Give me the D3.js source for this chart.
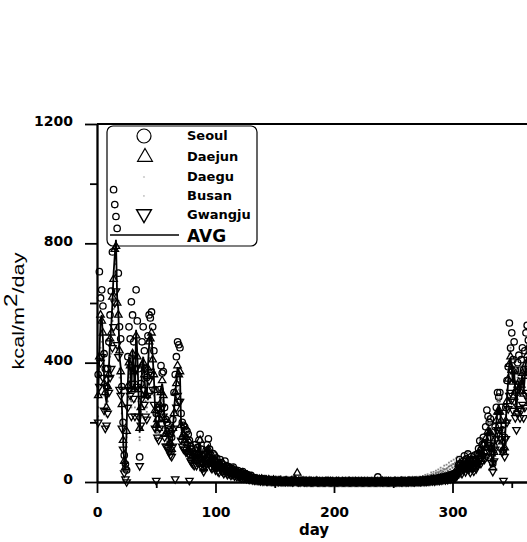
<!DOCTYPE html>
<html>
<head>
<meta charset="utf-8">
<script src="https://cdn.jsdelivr.net/npm/d3@7"></script>
<style>
  body { margin: 0; background: #fff; }
  svg { display: block; }
</style>
</head>
<body>
<div id="chart"></div>
<script>
// ---- data (daily values, day 1..365) ----
const avgValues = [
  280,430,540,560,480,350,290,265,300,380,470,520,600,700,760,812,620,577,420,385,253,150,60,40,180,330,420,380,300,440,380,
  300,510,430,300,165,260,380,420,350,300,280,390,460,500,490,420,350,250,185,200,190,250,310,330,300,200,170,160,
  150,140,125,118,170,240,290,340,385,370,365,185,160,150,150,140,135,130,110,95,90,80,75,100,75,90,110,130,90,60,50,
  70,85,100,118,90,70,60,75,70,55,65,50,45,60,52,48,40,55,45,35,42,38,30,35,40,28,32,25,30,22,
  25,20,28,18,22,15,20,14,12,18,10,12,8,10,9,7,8,6,9,5,6,7,5,4,6,5,3,4,5,3,4,
  3,2,4,3,2,1,3,2,4,2,1,2,3,1,2,5,3,2,1,2,1,3,2,1,2,1,1,2,1,0,
  1,0,1,2,0,1,0,1,0,0,1,0,2,1,0,0,1,0,0,1,0,0,0,1,0,0,0,1,0,0,0,
  0,0,1,0,0,0,0,1,0,0,0,0,1,0,0,0,0,0,1,0,0,0,0,1,0,0,0,2,1,0,0,
  0,1,0,1,0,0,1,2,0,1,0,1,2,1,0,2,1,1,2,1,3,1,2,2,1,3,2,2,3,2,
  3,4,2,5,3,6,4,5,7,6,8,5,9,7,10,8,12,9,11,14,10,15,12,18,14,20,16,22,18,25,30,
  45,60,50,40,55,70,48,62,75,58,45,68,60,50,72,60,75,90,110,85,100,120,105,140,120,175,160,170,90,50,
  97,150,200,240,230,240,200,140,97,120,200,275,340,400,415,380,330,375,300,240,320,340,300,330,360,300,350,400,420,380,360
];

const seoulValues = [
  360,705,617,644,590,430,380,320,380,470,560,640,771,980,930,890,850,700,520,480,320,200,90,60,40,420,520,480,604,560,470,
  380,644,540,380,84,330,470,520,440,380,350,490,560,550,570,520,440,310,230,250,240,310,390,365,370,250,210,200,
  190,175,160,150,210,300,360,420,470,460,450,230,200,190,185,175,170,160,140,120,110,100,95,125,95,115,140,160,110,75,65,
  90,105,125,145,110,90,75,95,90,70,80,65,55,75,65,60,50,70,55,45,52,48,38,45,50,35,40,32,38,28,
  32,25,35,22,28,20,25,18,15,22,13,15,10,13,11,9,10,8,11,6,8,9,6,5,8,6,4,5,6,4,5,
  4,3,5,4,3,2,4,3,5,3,2,3,4,2,3,6,4,3,2,3,2,4,3,2,3,2,2,3,2,1,
  2,1,2,3,1,2,1,2,1,1,2,1,3,2,1,1,2,1,1,2,1,1,1,2,1,1,1,2,1,1,1,
  1,1,2,1,1,1,1,2,1,1,1,1,2,1,1,1,1,1,2,1,1,1,1,2,17,1,1,3,2,1,1,
  1,2,1,2,1,1,2,3,1,2,1,2,3,2,1,3,2,2,3,2,4,2,3,3,2,4,3,3,4,3,
  4,5,3,6,4,8,5,6,9,8,10,6,11,9,13,10,15,11,14,18,13,19,15,23,18,25,20,28,23,32,38,
  56,75,62,50,69,88,60,78,94,72,56,85,75,62,90,75,94,112,138,106,125,150,131,185,241,220,200,212,112,62,
  120,185,250,300,285,300,250,175,107,150,250,340,386,533,449,500,410,470,375,300,400,425,375,410,450,375,440,500,525,475,450
];

const daejunValues = [
  290,420,560,540,500,330,300,250,320,360,480,500,620,680,780,790,600,560,440,370,260,140,70,50,170,320,400,390,310,430,370,
  310,490,420,310,180,250,390,400,360,290,290,380,470,480,500,410,360,240,190,210,180,260,300,340,290,210,160,170,
  160,130,130,110,180,230,300,330,390,360,370,190,150,160,140,150,130,140,100,100,85,90,70,110,70,95,100,140,85,65,45,
  75,80,105,110,95,65,65,70,75,50,70,45,50,55,55,45,42,50,48,32,45,35,32,33,42,26,34,23,32,20,
  27,18,30,16,24,14,22,12,14,16,11,10,9,9,10,6,9,5,10,4,7,6,6,3,7,4,4,3,6,2,5,
  2,3,3,4,1,2,2,3,3,1,2,1,4,2,1,6,2,30,2,1,2,2,3,1,1,2,0,3,1,1,
  0,1,0,3,1,0,1,0,1,0,0,1,1,2,0,1,0,1,0,0,1,0,1,0,0,1,0,0,1,0,1,
  1,0,0,1,0,1,0,0,1,0,1,0,0,1,0,1,0,0,0,1,0,1,0,0,1,0,1,1,2,0,1,
  1,0,1,0,1,0,0,1,1,0,1,0,1,2,1,1,2,0,1,2,2,1,3,1,2,2,3,1,2,3,
  2,5,3,4,4,5,5,4,8,5,9,6,8,8,11,7,13,10,10,15,11,14,13,17,15,19,17,21,20,24,28,
  42,62,48,43,52,72,46,65,72,60,43,70,58,53,70,62,72,93,105,88,97,125,100,145,115,170,165,165,95,48,
  100,145,205,235,235,235,205,135,100,115,205,270,345,395,420,375,335,370,305,235,325,335,305,325,365,295,355,395,425,375,365
];

const daeguValues = [
  250,390,490,500,430,320,260,240,270,340,420,470,540,630,690,730,560,520,380,350,230,135,55,35,160,300,380,340,270,400,340,
  270,460,390,270,150,235,340,380,315,270,250,350,415,450,440,380,315,225,165,180,170,225,280,300,270,180,155,145,
  135,125,115,105,155,215,260,305,345,335,330,165,145,135,135,125,120,115,100,85,80,72,68,90,68,80,100,115,80,55,45,
  63,76,90,106,81,63,54,68,63,50,58,45,40,54,47,43,36,50,40,32,38,34,27,32,36,25,29,22,27,20,
  22,18,25,16,20,13,18,12,11,16,9,11,7,9,8,6,7,5,8,4,5,6,4,3,5,4,3,3,4,2,3,
  10,12,8,15,9,7,11,6,14,8,5,9,12,6,8,16,10,7,5,9,6,12,8,5,10,7,6,9,5,4,
  6,4,7,9,3,5,4,6,3,2,5,3,8,6,2,3,5,2,3,6,2,3,2,5,2,3,2,6,3,2,3,
  3,2,5,3,2,3,2,5,3,2,3,2,6,3,2,3,2,2,5,3,2,3,2,4,3,2,3,7,5,2,3,
  3,5,2,6,3,2,5,8,3,5,2,6,8,5,3,9,6,5,9,6,12,5,9,8,6,12,9,8,13,9,
  12,15,9,18,12,20,15,18,24,20,26,18,30,24,32,26,38,30,35,42,32,45,38,52,42,55,48,60,52,65,70,
  55,70,60,48,65,85,58,72,90,70,55,80,72,60,85,72,90,105,125,100,115,135,120,160,140,200,180,195,105,60,
  110,170,220,270,255,270,225,160,110,135,225,300,370,430,440,400,360,400,330,265,350,370,330,360,390,330,380,430,450,410,390
];

const busanValues = [
  220,360,450,470,400,290,240,220,250,320,390,430,500,580,640,680,520,480,350,320,210,125,50,33,150,275,350,320,250,370,320,
  250,420,360,250,140,215,315,350,290,250,235,325,385,415,405,350,290,210,155,165,160,210,260,275,250,165,140,135,
  125,115,105,100,140,200,240,285,320,310,305,155,135,125,125,115,112,108,92,80,75,68,63,85,63,75,92,110,75,50,42,
  58,70,85,98,75,58,50,62,58,46,54,42,38,50,43,40,34,46,38,30,35,32,25,29,33,23,27,21,25,18,
  30,26,34,24,28,22,26,20,18,24,16,18,14,16,15,13,14,12,15,10,12,13,10,9,11,10,8,9,10,7,8,
  15,18,12,20,14,10,16,9,18,12,8,13,17,9,11,22,14,10,8,13,9,16,12,8,14,10,9,13,8,6,
  8,6,10,12,5,7,6,9,5,4,7,5,11,8,4,5,7,4,5,8,4,5,4,7,4,5,4,8,5,4,5,
  5,4,7,5,4,5,4,7,5,4,5,4,8,5,4,5,4,4,7,5,4,5,4,6,5,4,5,10,7,4,5,
  5,7,4,8,5,4,7,11,5,7,4,8,11,7,5,12,8,7,12,8,16,7,12,11,8,16,12,11,18,12,
  16,20,12,24,16,26,20,24,32,26,34,24,38,32,42,34,48,38,45,55,42,58,48,65,55,70,60,75,65,80,85,
  60,80,68,55,72,95,65,82,100,78,62,90,80,68,95,80,100,115,140,112,125,150,135,175,155,215,195,210,115,68,
  115,180,230,280,265,280,235,170,115,140,235,310,380,440,450,410,370,410,340,275,360,380,340,370,400,340,390,440,460,420,400
];

const gwangjuValues = [
  200,320,400,420,350,240,180,190,230,300,350,380,450,520,600,640,460,420,310,290,180,110,30,10,0,250,310,290,220,330,280,
  220,380,320,220,54,190,280,310,260,220,210,290,340,370,360,310,260,180,5,150,140,180,230,250,220,150,120,120,
  110,100,90,85,120,180,10,250,290,270,270,140,120,110,110,100,100,95,5,70,65,60,55,75,55,65,80,95,65,45,35,
  50,60,75,85,65,50,45,55,50,40,48,36,32,45,38,35,28,40,32,25,30,28,22,25,30,20,24,18,22,16,
  18,14,20,13,16,11,14,10,9,13,7,9,6,7,6,5,6,4,6,3,4,5,3,3,4,3,2,3,3,2,3,
  2,1,3,2,1,1,2,1,3,1,1,1,2,0,1,3,2,1,0,1,0,2,1,0,1,0,0,1,0,0,
  0,0,1,1,0,0,0,0,0,0,0,0,1,0,0,0,0,0,0,0,0,0,0,0,0,0,0,0,0,0,0,
  0,0,0,0,0,0,0,0,0,0,0,0,0,0,0,0,0,0,0,0,0,0,0,0,0,0,0,1,0,0,0,
  0,0,0,0,0,0,0,1,0,0,0,0,1,0,0,1,0,0,1,0,2,0,1,1,0,2,1,1,2,1,
  2,3,1,3,2,4,3,3,5,4,6,3,6,5,7,5,8,6,8,10,7,11,8,13,10,14,11,16,13,18,22,
  32,45,36,28,40,50,34,45,55,42,32,50,44,36,52,44,55,66,80,62,72,88,76,100,85,125,115,120,65,35,
  70,110,145,175,165,175,145,100,5,85,145,200,245,290,300,275,240,270,215,175,230,245,215,240,260,215,250,290,300,275,260
];

const xTicks = [0, 100, 200, 300];
const xMinorTicks = [50, 150, 250, 350];
const yTicks = [0, 400, 800, 1200];
const yMinorTicks = [200, 600, 1000];
const legendNames = ['Seoul', 'Daejun', 'Daegu', 'Busan', 'Gwangju', 'AVG'];

// ---- layout ----
const width = 527;
const height = 542;
const tickFont = 'DejaVu Sans, Verdana, sans-serif';

const svg = d3.select('#chart')
  .append('svg')
  .attr('width', width)
  .attr('height', height)
  .style('background', '#fff');

const x = d3.scaleLinear().domain([0, 380]).range([97, 97 + 380 * 1.185]);
const y = d3.scaleLinear().domain([0, 1200]).range([482, 124]);

const toPoints = vals => vals.map((v, i) => ({ day: i + 1, value: v }));

// gray stipple series (Daegu, Busan)
svg.append('g').selectAll('circle')
  .data(toPoints(daeguValues))
  .enter().append('circle')
  .attr('cx', d => x(d.day))
  .attr('cy', d => y(d.value))
  .attr('r', 1.1)
  .attr('fill', '#666');

svg.append('g').selectAll('rect')
  .data(toPoints(busanValues))
  .enter().append('rect')
  .attr('x', d => x(d.day) - 0.9)
  .attr('y', d => y(d.value) - 0.9)
  .attr('width', 1.8)
  .attr('height', 1.8)
  .attr('fill', '#888');

// triangle markers
const triUp = d3.symbol().type(d3.symbolTriangle).size(24);
svg.append('g').selectAll('path')
  .data(toPoints(gwangjuValues))
  .enter().append('path')
  .attr('d', triUp)
  .attr('transform', d => `translate(${x(d.day)},${y(d.value)}) rotate(180)`)
  .attr('fill', 'none')
  .attr('stroke', '#000')
  .attr('stroke-width', 1.3);

svg.append('g').selectAll('path')
  .data(toPoints(daejunValues))
  .enter().append('path')
  .attr('d', triUp)
  .attr('transform', d => `translate(${x(d.day)},${y(d.value)})`)
  .attr('fill', 'none')
  .attr('stroke', '#000')
  .attr('stroke-width', 1.3);

svg.append('g').selectAll('circle')
  .data(toPoints(seoulValues))
  .enter().append('circle')
  .attr('cx', d => x(d.day))
  .attr('cy', d => y(d.value))
  .attr('r', 3.2)
  .attr('fill', 'none')
  .attr('stroke', '#000')
  .attr('stroke-width', 1.3);

// AVG line
const line = d3.line()
  .x(d => x(d.day))
  .y(d => y(d.value));

svg.append('path')
  .datum(toPoints(avgValues))
  .attr('d', line)
  .attr('fill', 'none')
  .attr('stroke', '#000')
  .attr('stroke-width', 1.8);

// ---- axes ----
const yAxis = svg.append('g')
  .attr('transform', `translate(${x(0)},0)`)
  .call(d3.axisLeft(y).tickValues(yTicks).tickSize(12).tickSizeOuter(0).tickPadding(12).tickFormat(d3.format('d')));
svg.append('g')
  .attr('transform', `translate(${x(0)},0)`)
  .call(d3.axisLeft(y).tickValues(yMinorTicks).tickSize(7).tickSizeOuter(0).tickFormat(''));

svg.append('g')
  .attr('transform', `translate(0,${y(0)})`)
  .call(d3.axisBottom(x).tickValues(xTicks).tickSize(11).tickSizeOuter(0).tickPadding(14).tickFormat(d3.format('d')));
svg.append('g')
  .attr('transform', `translate(0,${y(0)})`)
  .call(d3.axisBottom(x).tickValues(xMinorTicks).tickSize(6).tickSizeOuter(0).tickFormat(''));

svg.selectAll('.domain, .tick line')
  .attr('stroke', '#000')
  .attr('stroke-width', 1.8);

svg.selectAll('.tick text')
  .attr('fill', '#000')
  .style('font-family', tickFont)
  .style('font-weight', 'bold')
  .style('font-size', '14px');
yAxis.selectAll('.tick text').attr('dy', '0.12em');

// top frame line
svg.append('line')
  .attr('x1', x(0)).attr('x2', x(380))
  .attr('y1', y(1200)).attr('y2', y(1200))
  .attr('stroke', '#000')
  .attr('stroke-width', 1.8);

// axis titles
svg.append('text')
  .attr('x', 314)
  .attr('y', 535)
  .attr('text-anchor', 'middle')
  .style('font-family', tickFont)
  .style('font-weight', 'bold')
  .style('font-size', '15px')
  .text('day');

const yTitle = svg.append('text')
  .attr('transform', 'translate(24,311) rotate(-90)')
  .attr('text-anchor', 'middle')
  .attr('textLength', 117)
  .attr('lengthAdjust', 'spacingAndGlyphs')
  .style('font-family', 'Liberation Sans, Arial, sans-serif')
  .style('font-size', '16px');
yTitle.append('tspan').text('kcal/m');
yTitle.append('tspan').attr('dy', -7).style('font-size', '18px').text('2');
yTitle.append('tspan').attr('dy', 7).text('/day');

// ---- legend ----
const legend = svg.append('g');
legend.append('rect')
  .attr('x', 107).attr('y', 126)
  .attr('width', 150).attr('height', 120)
  .attr('rx', 6)
  .attr('fill', 'none')
  .attr('stroke', '#000')
  .attr('stroke-width', 1.2);

const legendY = [140, 161, 181, 200, 219, 242];
legend.selectAll('text')
  .data(legendNames)
  .enter().append('text')
  .attr('x', 187)
  .attr('y', (d, i) => legendY[i])
  .style('font-family', tickFont)
  .style('font-weight', 'bold')
  .style('font-size', d => d === 'AVG' ? '17px' : '13px')
  .text(d => d);

legend.append('circle')
  .attr('cx', 144).attr('cy', 136).attr('r', 7)
  .attr('fill', 'none').attr('stroke', '#000').attr('stroke-width', 1.2);

const bigTri = d3.symbol().type(d3.symbolTriangle).size(95);
legend.append('path')
  .attr('d', bigTri)
  .attr('transform', 'translate(145,157)')
  .attr('fill', 'none').attr('stroke', '#000').attr('stroke-width', 1.2);
legend.append('path')
  .attr('d', bigTri)
  .attr('transform', 'translate(144,214) rotate(180)')
  .attr('fill', 'none').attr('stroke', '#000').attr('stroke-width', 1.4);

legend.append('circle')
  .attr('cx', 144).attr('cy', 177).attr('r', 1.1).attr('fill', '#ccc');
legend.append('rect')
  .attr('x', 143).attr('y', 195).attr('width', 1.8).attr('height', 1.8).attr('fill', '#ccc');

legend.append('line')
  .attr('x1', 110).attr('x2', 179)
  .attr('y1', 235).attr('y2', 235)
  .attr('stroke', '#000')
  .attr('stroke-width', 1.6);
</script>
</body>
</html>
